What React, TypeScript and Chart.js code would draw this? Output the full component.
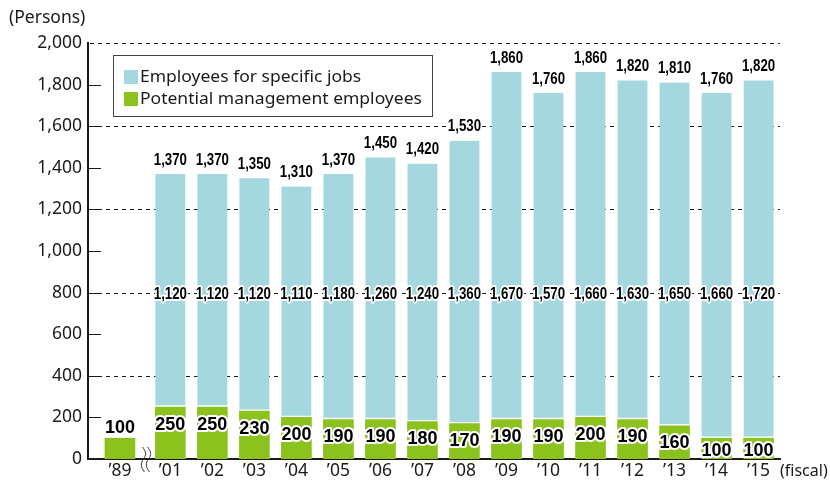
import React, { useEffect, useRef } from "react";
import { Chart, registerables } from "chart.js";

Chart.register(...registerables);

const categories = ["\u201989", "\u201901", "\u201902", "\u201903", "\u201904", "\u201905", "\u201906", "\u201907", "\u201908", "\u201909", "\u201910", "\u201911", "\u201912", "\u201913", "\u201914", "\u201915"];
// positions on the year axis (the gap after '89 is a broken axis)
const xPositions = [0, 1.2, 2.2, 3.2, 4.2, 5.2, 6.2, 7.2, 8.2, 9.2, 10.2, 11.2, 12.2, 13.2, 14.2, 15.2];
const managementValues = [100, 250, 250, 230, 200, 190, 190, 180, 170, 190, 190, 200, 190, 160, 100, 100];
const specificJobsValues: (number | null)[] = [null, 1120, 1120, 1120, 1110, 1180, 1260, 1240, 1360, 1670, 1570, 1660, 1630, 1650, 1660, 1720];
const yTicks = [0, 200, 400, 600, 800, 1000, 1200, 1400, 1600, 1800, 2000];

const BLUE = "#a5d7de";
const GREEN = "#8cc21e";
const INK = "#1a1a1a";
const TICK_FONT = '17.5px "Noto Sans", sans-serif';

function fmt(n: number) {
  return n.toLocaleString("en-US");
}

function haloText(ctx: CanvasRenderingContext2D, text: string, x: number, y: number, size: number, sx: number) {
  ctx.save();
  ctx.translate(x, y);
  ctx.scale(sx, 1);
  ctx.font = `bold ${size}px "Liberation Sans", Arial, sans-serif`;
  ctx.textAlign = "center";
  ctx.textBaseline = "middle";
  ctx.lineJoin = "round";
  ctx.strokeStyle = "#ffffff";
  ctx.lineWidth = 4;
  ctx.strokeText(text, 0, 0);
  ctx.fillStyle = "#000";
  ctx.fillText(text, 0, 0);
  ctx.restore();
}

const decorPlugin = {
  id: "decor",
  beforeDatasetsDraw(chart: any) {
    const { ctx, chartArea, scales } = chart;
    const y = scales.y;
    ctx.save();
    ctx.strokeStyle = INK;
    ctx.lineWidth = 1;
    for (const v of yTicks) {
      if (v === 0) continue;
      const py = Math.round(y.getPixelForValue(v)) + 0.5;
      if (v % 400 === 0) {
        ctx.setLineDash([4, 4]);
        ctx.beginPath();
        ctx.moveTo(chartArea.left + 2, py);
        ctx.lineTo(chartArea.right, py);
        ctx.stroke();
      }
      if (v !== 2000) {
        ctx.setLineDash([]);
        ctx.beginPath();
        ctx.moveTo(chartArea.left, py);
        ctx.lineTo(chartArea.left + 13, py);
        ctx.stroke();
      }
    }
    ctx.restore();
  },
  afterDatasetsDraw(chart: any) {
    const { ctx, scales } = chart;
    const x = scales.x;
    const y = scales.y;
    for (let i = 0; i < categories.length; i++) {
      const px = x.getPixelForValue(xPositions[i]);
      const g = managementValues[i];
      const b = specificJobsValues[i];
      if (b != null) {
        const total = g + b;
        haloText(ctx, fmt(total), px, y.getPixelForValue(total) - 14, 17, 0.78);
        haloText(ctx, fmt(b), px, y.getPixelForValue(790), 17, 0.78);
        haloText(ctx, fmt(g), px, y.getPixelForValue(Math.max(g - 85, 38)), 18, 1);
      } else {
        haloText(ctx, fmt(g), px, y.getPixelForValue(g) - 10, 18, 1);
      }
    }
  },
  afterDraw(chart: any) {
    const { ctx, scales, chartArea } = chart;
    const x = scales.x;
    ctx.save();
    // unit captions
    ctx.fillStyle = INK;
    ctx.font = TICK_FONT;
    ctx.textBaseline = "middle";
    ctx.textAlign = "left";
    ctx.fillText("(Persons)", 9, 18);
    ctx.font = '16px "Noto Sans", sans-serif';
    ctx.fillText("(fiscal)", chartArea.right, 471);
    // axis break marks
    const bx = x.getPixelForValue(0.62);
    ctx.strokeStyle = "#333";
    ctx.lineWidth = 1;
    for (const dx of [-2.5, 2.5]) {
      ctx.beginPath();
      const x0 = bx + dx;
      ctx.moveTo(x0 - 1, 447);
      ctx.bezierCurveTo(x0 + 3, 452, x0 + 3, 455, x0, 459);
      ctx.bezierCurveTo(x0 - 3, 463, x0 - 3, 467, x0 + 1, 472);
      ctx.stroke();
    }
    // legend
    const lx = 113.5, ly = 55.5, lw = 319, lh = 61;
    ctx.fillStyle = "#fff";
    ctx.fillRect(lx, ly, lw, lh);
    ctx.strokeStyle = "#444";
    ctx.lineWidth = 1;
    ctx.strokeRect(lx, ly, lw, lh);
    const items = [chart.data.datasets[1], chart.data.datasets[0]];
    items.forEach((ds: any, k: number) => {
      const cy = 77 + k * 22;
      ctx.fillStyle = ds.backgroundColor;
      ctx.fillRect(124, cy - 7, 14, 14);
      ctx.save();
      ctx.translate(140, cy);
      ctx.scale(1.06, 1);
      ctx.fillStyle = INK;
      ctx.font = '16.5px "Noto Sans", sans-serif';
      ctx.textAlign = "left";
      ctx.textBaseline = "middle";
      ctx.fillText(ds.label, 0, 0);
      ctx.restore();
    });
    ctx.restore();
  },
};

export default function App() {
  const ref = useRef<HTMLCanvasElement | null>(null);
  useEffect(() => {
    if (!ref.current) return;
    const chart = new Chart(ref.current, {
      type: "bar",
      data: {
        datasets: [
          {
            label: "Potential management employees",
            data: xPositions.map((xv, i) => ({ x: xv, y: managementValues[i] })),
            backgroundColor: GREEN,
            stack: "s",
            barThickness: 30,
            borderWidth: 0,
          },
          {
            label: "Employees for specific jobs",
            data: xPositions
              .map((xv, i) => ({ x: xv, y: specificJobsValues[i] }))
              .filter((p) => p.y != null) as any,
            backgroundColor: BLUE,
            stack: "s",
            barThickness: 30,
            borderColor: "#ffffff",
            borderWidth: { top: 0, left: 0, right: 0, bottom: 2 },
            borderSkipped: false,
          },
        ],
      },
      options: {
        animation: false,
        responsive: false,
        maintainAspectRatio: false,
        layout: { padding: { top: 43, right: 50, bottom: 0, left: 0 } },
        plugins: { legend: { display: false }, tooltip: { enabled: false } },
        scales: {
          x: {
            type: "linear",
            offset: false,
            min: -0.76,
            max: 15.71,
            grid: { display: false, drawTicks: false },
            border: { display: true, color: INK, width: 2 },
            afterBuildTicks: (scale: any) => {
              scale.ticks = xPositions.map((v) => ({ value: v }));
            },
            afterFit: (scale: any) => {
              scale.height = 22;
            },
            ticks: {
              autoSkip: false,
              maxRotation: 0,
              padding: 2,
              color: INK,
              font: { family: '"Noto Sans", sans-serif', size: 17.5 },
              callback: (_v: any, idx: number) => categories[idx],
            },
          },
          y: {
            stacked: true,
            min: 0,
            max: 2000,
            grid: { display: false, drawTicks: false },
            border: { display: true, color: INK, width: 2 },
            afterBuildTicks: (scale: any) => {
              scale.ticks = yTicks.map((v) => ({ value: v }));
            },
            afterFit: (scale: any) => {
              scale.width = 88;
            },
            ticks: {
              padding: 6,
              color: INK,
              font: { family: '"Noto Sans", sans-serif', size: 17.5 },
              callback: (v: any) => fmt(Number(v)),
            },
          },
        },
      },
      plugins: [decorPlugin],
    });
    return () => chart.destroy();
  }, []);
  return (
    <div style={{ position: "absolute", left: 0, top: 0, width: 830, height: 481, background: "#fff" }}>
      <canvas ref={ref} width={830} height={481} style={{ width: 830, height: 481 }} />
    </div>
  );
}
